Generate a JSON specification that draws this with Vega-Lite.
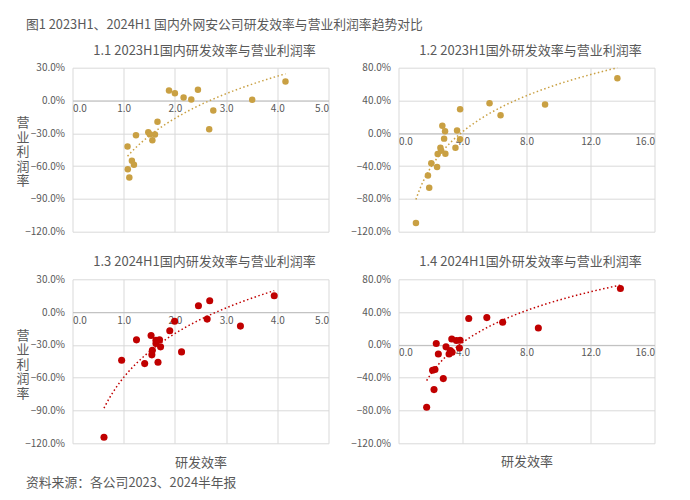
{
  "$schema": "https://vega.github.io/schema/vega-lite/v6.json",
  "autosize": "none",
  "padding": {"left": 72.5, "top": 67.7, "right": 617.5, "bottom": 432.3},
  "background": "white",
  "config": {
    "font": "Noto Sans CJK SC",
    "view": {"stroke": null},
    "axis": {"labelColor": "#595959", "labelFontSize": 10, "gridColor": "#d9d9d9", "ticks": false, "titleColor": "#595959", "titleFontWeight": "normal"},
    "title": {"color": "#595959", "fontWeight": "normal", "fontSize": 13}
  },
  "datasets": {
    "p1": [
      {"eff": 1.885, "margin": 0.091}, {"eff": 2.0, "margin": 0.067}, {"eff": 2.17, "margin": 0.027}, {"eff": 2.32, "margin": 0.009},
      {"eff": 2.45, "margin": 0.098}, {"eff": 3.51, "margin": 0.006}, {"eff": 4.16, "margin": 0.174}, {"eff": 2.75, "margin": -0.091},
      {"eff": 2.67, "margin": -0.262}, {"eff": 1.66, "margin": -0.195}, {"eff": 1.48, "margin": -0.29}, {"eff": 1.51, "margin": -0.308},
      {"eff": 1.61, "margin": -0.311}, {"eff": 1.56, "margin": -0.363}, {"eff": 1.24, "margin": -0.317}, {"eff": 1.075, "margin": -0.421},
      {"eff": 1.16, "margin": -0.552}, {"eff": 1.2, "margin": -0.588}, {"eff": 1.08, "margin": -0.628}, {"eff": 1.11, "margin": -0.704}
    ],
    "p2": [
      {"eff": 1.09, "margin": -1.093}, {"eff": 1.92, "margin": -0.663}, {"eff": 1.84, "margin": -0.516}, {"eff": 2.05, "margin": -0.366},
      {"eff": 2.41, "margin": -0.411}, {"eff": 2.45, "margin": -0.252}, {"eff": 2.93, "margin": -0.248}, {"eff": 2.62, "margin": -0.175},
      {"eff": 2.66, "margin": -0.21}, {"eff": 2.74, "margin": 0.093}, {"eff": 2.91, "margin": 0.024}, {"eff": 2.85, "margin": -0.065},
      {"eff": 3.56, "margin": -0.175}, {"eff": 3.66, "margin": 0.033}, {"eff": 3.85, "margin": -0.073}, {"eff": 3.85, "margin": 0.293},
      {"eff": 5.69, "margin": 0.366}, {"eff": 6.38, "margin": 0.22}, {"eff": 9.16, "margin": 0.35}, {"eff": 13.68, "margin": 0.67}
    ],
    "p3": [
      {"eff": 0.615, "margin": -1.144}, {"eff": 0.96, "margin": -0.44}, {"eff": 1.25, "margin": -0.254}, {"eff": 1.41, "margin": -0.471},
      {"eff": 1.535, "margin": -0.214}, {"eff": 1.63, "margin": -0.257}, {"eff": 1.63, "margin": -0.287}, {"eff": 1.7, "margin": -0.254},
      {"eff": 1.72, "margin": -0.318}, {"eff": 1.56, "margin": -0.349}, {"eff": 1.55, "margin": -0.391}, {"eff": 1.67, "margin": -0.459},
      {"eff": 1.9, "margin": -0.171}, {"eff": 1.995, "margin": -0.083}, {"eff": 2.13, "margin": -0.364}, {"eff": 2.46, "margin": 0.058},
      {"eff": 2.68, "margin": 0.104}, {"eff": 2.63, "margin": -0.064}, {"eff": 3.28, "margin": -0.128}, {"eff": 3.94, "margin": 0.15}
    ],
    "p4": [
      {"eff": 1.76, "margin": -0.76}, {"eff": 2.22, "margin": -0.545}, {"eff": 2.13, "margin": -0.309}, {"eff": 2.28, "margin": -0.301},
      {"eff": 2.8, "margin": -0.411}, {"eff": 2.36, "margin": 0.016}, {"eff": 2.49, "margin": -0.11}, {"eff": 2.97, "margin": -0.024},
      {"eff": 3.16, "margin": -0.11}, {"eff": 3.24, "margin": -0.069}, {"eff": 3.35, "margin": -0.089}, {"eff": 3.33, "margin": 0.073},
      {"eff": 3.62, "margin": 0.053}, {"eff": 3.85, "margin": 0.057}, {"eff": 3.81, "margin": -0.037}, {"eff": 4.39, "margin": 0.321},
      {"eff": 5.52, "margin": 0.333}, {"eff": 6.51, "margin": 0.276}, {"eff": 8.74, "margin": 0.207}, {"eff": 13.87, "margin": 0.687}
    ]
  },
  "title": {"text": "图1 2023H1、2024H1 国内外网安公司研发效率与营业利润率趋势对比", "anchor": "start", "frame": "group", "dx": -46.5, "offset": 13, "fontSize": 12.8},
  "bounds": "flush",
  "vconcat": [
    {
      "title": {"text": "资料来源：各公司2023、2024半年报", "orient": "bottom", "anchor": "start", "frame": "group", "dx": -46.5, "offset": 8, "fontSize": 12.8},
      "bounds": "flush",
      "columns": 2,
      "spacing": {"row": 47.6, "column": 70},
      "concat": [
        {
          "width": 256, "height": 164,
          "title": {"text": "1.1 2023H1国内研发效率与营业利润率", "offset": 5, "dx": 4},
          "data": {"name": "p1"},
          "encoding": {
            "x": {"field": "eff", "type": "quantitative", "scale": {"domain": [0, 5], "nice": false},
              "axis": {"title": null, "values": [0, 1, 2, 3, 4, 5], "format": ".1f", "offset": -131.2, "domainColor": "#bfbfbf", "labelPadding": 3}},
            "y": {"field": "margin", "type": "quantitative", "scale": {"domain": [-1.2, 0.3], "nice": false},
              "axis": {"values": [-1.2, -0.9, -0.6, -0.3, 0, 0.3], "format": ".1%", "domain": false, "labelPadding": 8,
                "title": ["营", "业", "利", "润", "率"], "titleAngle": 0, "titleX": -50, "titleY": 55, "titleAlign": "center", "titleBaseline": "middle", "titleFontSize": 13, "titleLineHeight": 14.5}}
          },
          "layer": [
            {"mark": {"type": "line", "color": "#C9A043", "strokeDash": [1.5, 2.5], "strokeWidth": 1.5},
             "transform": [{"regression": "margin", "on": "eff", "method": "log"}]},
            {"mark": {"type": "circle", "color": "#C9A043", "size": 42, "opacity": 1}}
          ]
        },
        {
          "width": 256, "height": 164,
          "title": {"text": "1.2 2023H1国外研发效率与营业利润率", "offset": 5, "dx": 4},
          "data": {"name": "p2"},
          "encoding": {
            "x": {"field": "eff", "type": "quantitative", "scale": {"domain": [0, 16], "nice": false},
              "axis": {"title": null, "values": [0, 4, 8, 12, 16], "format": ".1f", "offset": -98.4, "domainColor": "#bfbfbf", "labelPadding": 3}},
            "y": {"field": "margin", "type": "quantitative", "scale": {"domain": [-1.2, 0.8], "nice": false},
              "axis": {"values": [-1.2, -0.8, -0.4, 0, 0.4, 0.8], "format": ".1%", "domain": false, "labelPadding": 8, "title": null}}
          },
          "layer": [
            {"mark": {"type": "line", "color": "#C9A043", "strokeDash": [1.5, 2.5], "strokeWidth": 1.5},
             "transform": [{"regression": "margin", "on": "eff", "method": "log"}]},
            {"mark": {"type": "circle", "color": "#C9A043", "size": 42, "opacity": 1}}
          ]
        },
        {
          "width": 256, "height": 164,
          "title": {"text": "1.3 2024H1国内研发效率与营业利润率", "offset": 5, "dx": 4},
          "data": {"name": "p3"},
          "encoding": {
            "x": {"field": "eff", "type": "quantitative", "scale": {"domain": [0, 5], "nice": false},
              "axis": {"title": "研发效率", "titleY": 150, "titleBaseline": "middle", "titleFontSize": 13, "values": [0, 1, 2, 3, 4, 5], "format": ".1f", "offset": -131.2, "domainColor": "#bfbfbf", "labelPadding": 3}},
            "y": {"field": "margin", "type": "quantitative", "scale": {"domain": [-1.2, 0.3], "nice": false},
              "axis": {"values": [-1.2, -0.9, -0.6, -0.3, 0, 0.3], "format": ".1%", "domain": false, "labelPadding": 8,
                "title": ["营", "业", "利", "润", "率"], "titleAngle": 0, "titleX": -50, "titleY": 56, "titleAlign": "center", "titleBaseline": "middle", "titleFontSize": 13, "titleLineHeight": 14.5}}
          },
          "layer": [
            {"mark": {"type": "line", "color": "#C00000", "strokeDash": [1.5, 2.5], "strokeWidth": 1.5},
             "transform": [{"regression": "margin", "on": "eff", "method": "log"}]},
            {"mark": {"type": "circle", "color": "#C00000", "size": 50, "opacity": 1}}
          ]
        },
        {
          "width": 256, "height": 164,
          "title": {"text": "1.4 2024H1国外研发效率与营业利润率", "offset": 5, "dx": 4},
          "data": {"name": "p4"},
          "encoding": {
            "x": {"field": "eff", "type": "quantitative", "scale": {"domain": [0, 16], "nice": false},
              "axis": {"title": "研发效率", "titleY": 117, "titleBaseline": "middle", "titleFontSize": 13, "values": [0, 4, 8, 12, 16], "format": ".1f", "offset": -98.4, "domainColor": "#bfbfbf", "labelPadding": 3}},
            "y": {"field": "margin", "type": "quantitative", "scale": {"domain": [-1.2, 0.8], "nice": false},
              "axis": {"values": [-1.2, -0.8, -0.4, 0, 0.4, 0.8], "format": ".1%", "domain": false, "labelPadding": 8, "title": null}}
          },
          "layer": [
            {"mark": {"type": "line", "color": "#C00000", "strokeDash": [1.5, 2.5], "strokeWidth": 1.5},
             "transform": [{"regression": "margin", "on": "eff", "method": "log"}]},
            {"mark": {"type": "circle", "color": "#C00000", "size": 50, "opacity": 1}}
          ]
        }
      ]
    }
  ]
}
